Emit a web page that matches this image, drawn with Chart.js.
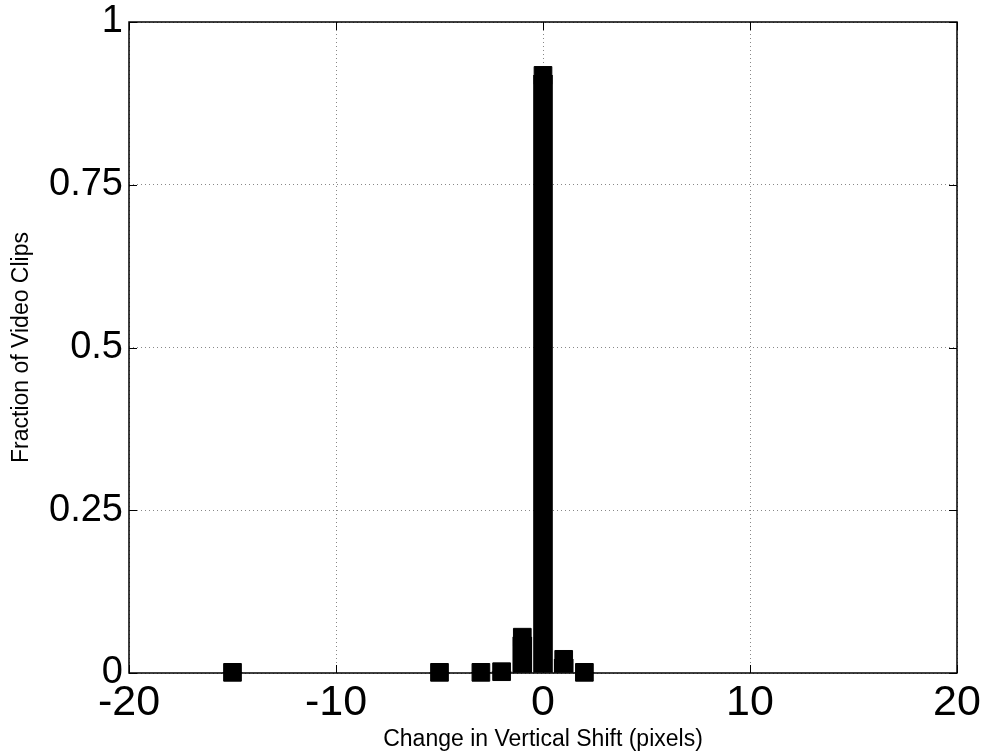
<!DOCTYPE html>
<html>
<head>
<meta charset="utf-8">
<script src="https://cdn.jsdelivr.net/npm/chart.js@4.4.0/dist/chart.umd.min.js"></script>
<style>
  html, body { margin: 0; padding: 0; background: #fff; }
  #wrap { width: 984px; height: 756px; }
</style>
</head>
<body>
<div id="wrap"><canvas id="shift-chart" width="984" height="756"></canvas></div>
<script>
const shifts = [-15, -5, -3, -2, -1, 0, 1, 2];
const fractions = [0.001, 0.001, 0.001, 0.002, 0.055, 0.918, 0.021, 0.001];
const xTicks = [-20, -10, 0, 10, 20];
const yTicks = [0, 0.25, 0.5, 0.75, 1];

const FONT = "'Liberation Sans', Arial, sans-serif";
const TICK_LEN = 8;

const points = shifts.map((x, i) => ({ x, y: fractions[i] }));

// matlab style box with inward ticks, drawn under the marks
const boxAndTicks = {
  id: "boxAndTicks",
  beforeDatasetsDraw(chart) {
    const { ctx, chartArea: a, scales } = chart;
    ctx.save();
    ctx.strokeStyle = "#000";
    ctx.lineWidth = 1;
    ctx.beginPath();
    xTicks.forEach((v) => {
      const px = Math.round(scales.x.getPixelForValue(v)) + 0.5;
      ctx.moveTo(px, a.bottom);
      ctx.lineTo(px, a.bottom - TICK_LEN);
      ctx.moveTo(px, a.top);
      ctx.lineTo(px, a.top + TICK_LEN);
    });
    yTicks.forEach((v) => {
      const py = Math.round(scales.y.getPixelForValue(v)) + 0.5;
      ctx.moveTo(a.left, py);
      ctx.lineTo(a.left + TICK_LEN, py);
      ctx.moveTo(a.right, py);
      ctx.lineTo(a.right - TICK_LEN, py);
    });
    ctx.stroke();
    ctx.lineWidth = 1.5;
    ctx.strokeRect(a.left, a.top, a.right - a.left, a.bottom - a.top);
    ctx.restore();
  },
};

const ctx = document.getElementById("shift-chart").getContext("2d");
new Chart(ctx, {
  type: "scatter",
  data: {
    datasets: [
      {
        type: "scatter",
        data: points,
        pointStyle: "rect",
        radius: 12.5,
        backgroundColor: "#000",
        borderColor: "#000",
        borderWidth: 1,
        clip: false,
        order: 1,
      },
      {
        type: "bar",
        data: points,
        backgroundColor: "#000",
        borderWidth: 0,
        barThickness: 19,
        grouped: false,
        order: 2,
      },
    ],
  },
  options: {
    responsive: false,
    animation: false,
    layout: { padding: { top: 22, right: 27, left: 0, bottom: 0 } },
    plugins: { legend: { display: false }, tooltip: { enabled: false } },
    scales: {
      x: {
        type: "linear",
        min: -20,
        max: 20,
        offset: false,
        afterBuildTicks: (scale) => {
          scale.ticks = xTicks.map((value) => ({ value }));
        },
        afterFit: (scale) => {
          scale.height = 83;
          scale.paddingLeft = 0;
          scale.paddingRight = 0;
        },
        ticks: {
          color: "#000",
          padding: 9,
          maxRotation: 0,
          font: { family: FONT, size: 43, lineHeight: 1 },
          callback: (value) => String(value),
        },
        grid: { color: "#888", drawTicks: false, offset: false, borderDash: [1, 3] },
        border: { display: false, dash: [1, 3] },
        title: {
          display: true,
          text: "Change in Vertical Shift (pixels)",
          color: "#000",
          font: { family: FONT, size: 23 },
          padding: { top: 0, bottom: 3 },
        },
      },
      y: {
        type: "linear",
        min: 0,
        max: 1,
        afterBuildTicks: (scale) => {
          scale.ticks = yTicks.map((value) => ({ value }));
        },
        afterFit: (scale) => {
          scale.width = 129;
          scale.paddingTop = 0;
          scale.paddingBottom = 0;
        },
        ticks: {
          color: "#000",
          padding: 6,
          font: { family: FONT, size: 38, lineHeight: 1 },
          callback: (value) => String(value),
        },
        grid: { color: "#888", drawTicks: false, borderDash: [1, 3] },
        border: { display: false, dash: [1, 3] },
        title: {
          display: true,
          text: "Fraction of Video Clips",
          color: "#000",
          font: { family: FONT, size: 23 },
          padding: { top: 8, bottom: 0 },
        },
      },
    },
  },
  plugins: [boxAndTicks],
});
</script>
</body>
</html>
